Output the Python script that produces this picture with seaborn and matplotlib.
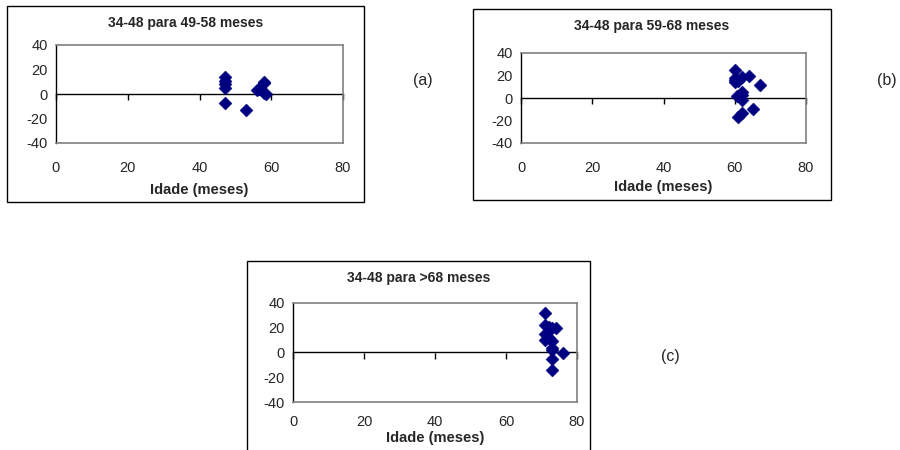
import matplotlib
matplotlib.use("Agg")
import matplotlib.pyplot as plt
import seaborn as sns
import pandas as pd
from matplotlib.patches import Rectangle

sns.set_style("white")
plt.rcParams['font.family'] = ['Liberation Sans', 'DejaVu Sans']
plt.rcParams['axes.unicode_minus'] = False

# Panel (a): 34-48 para 49-58 meses
a_age = [47, 47, 47, 47, 47, 53, 56, 56.5, 58, 58, 58, 58.5]
a_diff = [14, 11, 8, 5, -7, -13, 3, 4, 10, 9, 1, 0]

# Panel (b): 34-48 para 59-68 meses
b_age = [60, 60, 60, 60, 60.5, 61, 62, 62, 62, 62, 62, 61, 64, 65, 67]
b_diff = [25, 18, 16, 14, 2, 15, 19, 5, 3, -2, -13, -17, 20, -10, 12]

# Panel (c): 34-48 para >68 meses
c_age = [71, 71, 72, 73, 74, 71, 72, 71, 73, 73, 73, 76, 73, 73]
c_diff = [32, 22, 21, 20, 20, 15, 12, 10, 9, 4, 2, 0, -5, -14]

titles = ["34-48 para 49-58 meses", "34-48 para 59-68 meses", "34-48 para >68 meses"]
panel_tags = ["(a)", "(b)", "(c)"]
xlabel = "Idade (meses)"
xticks = [0, 20, 40, 60, 80]
yticks = [-40, -20, 0, 20, 40]

W, H = 900, 450
fig = plt.figure(figsize=(9, 4.5), dpi=100)

def fx(px):
    return px / W

def fy(py):
    return 1 - py / H

layouts = [
    dict(plot=(56, 343, 45, 143), box=(7, 364, 6, 202), title_y=23, xlab_y=190, tag=(423, 80), xpad=13),
    dict(plot=(521, 806, 53, 143), box=(473, 831, 9, 200), title_y=26, xlab_y=187, tag=(887, 80), xpad=13),
    dict(plot=(293, 577, 303, 402), box=(247, 590, 261, 460), title_y=278, xlab_y=438, tag=(670, 357), xpad=9),
]

data = [(a_age, a_diff), (b_age, b_diff), (c_age, c_diff)]

for i, (lay, (xs, ys)) in enumerate(zip(layouts, data)):
    bx0, bx1, bt, bb = lay["box"]
    fig.patches.append(Rectangle((fx(bx0), fy(bb)), fx(bx1 - bx0), (bb - bt) / H,
                                 transform=fig.transFigure, fill=False,
                                 edgecolor="black", linewidth=1.0, zorder=0))
    px0, px1, pt, pb = lay["plot"]
    ax = fig.add_axes([fx(px0), fy(pb), fx(px1 - px0), (pb - pt) / H])
    df = pd.DataFrame({"age": xs, "diff": ys})
    sns.scatterplot(data=df, x="age", y="diff", ax=ax, marker="D", s=44,
                    color="#000080", edgecolor="#000080", linewidth=0.3, zorder=5,
                    clip_on=False)
    ax.set_xlim(0, 80)
    ax.set_ylim(-40, 40)
    ax.set_xticks(xticks)
    ax.set_yticks(yticks)
    ax.set_xlabel("")
    ax.set_ylabel("")
    for side in ["top", "right", "bottom"]:
        ax.spines[side].set_color("#808080")
        ax.spines[side].set_linewidth(1.2)
    ax.spines["left"].set_color("black")
    ax.spines["left"].set_linewidth(1.0)
    ax.tick_params(axis="x", length=0, pad=lay["xpad"], labelsize=10.5)
    ax.tick_params(axis="y", length=4, width=1, direction="out", pad=2, labelsize=10.5, color="black")
    sec = ax.secondary_xaxis(0.5)
    for side in ["top", "bottom"]:
        sec.spines[side].set_color("black")
        sec.spines[side].set_linewidth(1.0)
    sec.set_xticks(xticks)
    sec.set_xticklabels([""] * len(xticks))
    sec.xaxis.set_ticks_position("bottom")
    sec.tick_params(axis="x", length=4, width=1, direction="out", labelbottom=False,
                    labeltop=False, color="black")
    fig.text(fx((bx0 + bx1) / 2), fy(lay["title_y"]), titles[i], ha="center", va="center",
             fontsize=10, fontweight="bold")
    fig.text(fx((px0 + px1) / 2), fy(lay["xlab_y"]), xlabel, ha="center", va="center",
             fontsize=10.5, fontweight="bold")
    tx, ty = lay["tag"]
    fig.text(fx(tx), fy(ty), panel_tags[i], ha="center", va="center", fontsize=11.5)

fig.savefig("out.png", dpi=100, facecolor="white")
